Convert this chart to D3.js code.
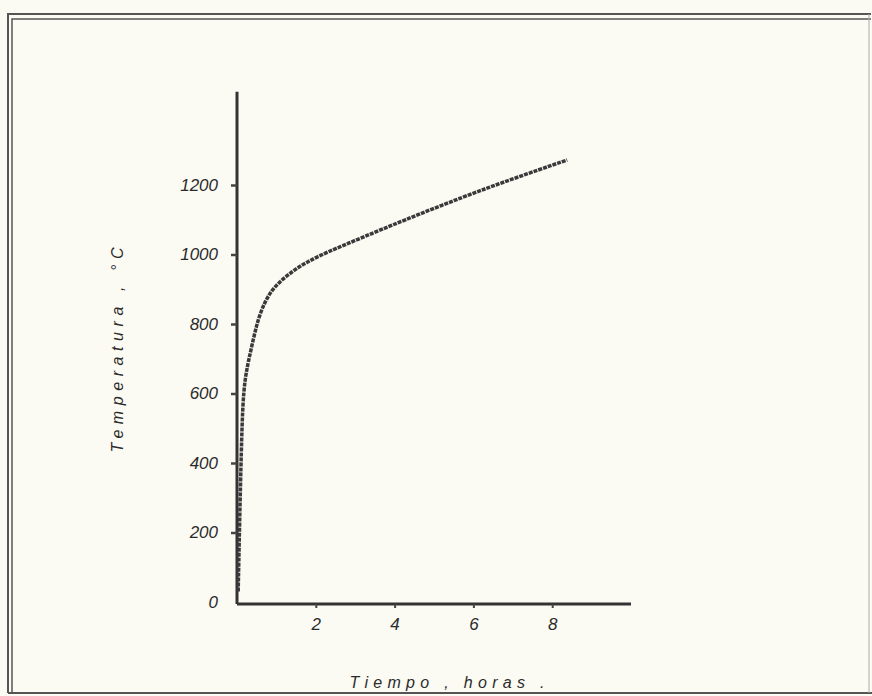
<!DOCTYPE html>
<html>
<head>
<meta charset="utf-8">
<script src="https://cdn.jsdelivr.net/npm/d3@7"></script>
<style>
  body { margin: 0; background: #fbfbf4; }
  text { font-family: "Liberation Sans", Arial, sans-serif; font-style: italic; fill: #2b2b2b; }
</style>
</head>
<body>
<div id="chart"></div>
<script>
/*
 * data
 */
const hours = [0.03, 0.08, 0.12, 0.15, 0.2, 0.28, 0.41, 0.53, 0.71, 0.96, 1.4, 1.8, 2.23, 3.2, 4.2, 5.74, 7.0, 8.38]
const temps = [30, 300, 480, 573, 639, 688, 754, 812, 866, 910, 952, 980, 1004, 1050, 1097, 1166, 1218, 1272]
const xTicks = [2, 4, 6, 8]
const yTicks = [0, 200, 400, 600, 800, 1000, 1200]
const xTitle = 'Tiempo , horas .'
const yTitle = 'Temperatura , °C'

/*
 * svg + frame
 */
const w = 872
const h = 696
const svg = d3.select('#chart')
  .append('svg')
  .attr('width', w)
  .attr('height', h)

svg.append('rect')
  .attr('width', w).attr('height', h)
  .style('fill', '#fbfbf4')

// double border like the scanned page
const frame = svg.append('g').style('fill', 'none').style('stroke', '#555')
frame.append('path')
  .attr('d', 'M8,693 V14 H871')
  .style('stroke-width', 2)
frame.append('path')
  .attr('d', 'M12,693 V19 H871')
  .style('stroke-width', 1.5)
frame.append('line')
  .attr('x1', 8).attr('x2', 872).attr('y1', 693).attr('y2', 693)
  .style('stroke-width', 2)
frame.append('line')
  .attr('x1', 869).attr('x2', 869).attr('y1', 14).attr('y2', 693)
  .style('stroke-width', 1).style('stroke', '#aaa')

/*
 * scales
 */
const x = d3.scaleLinear().domain([0, 10]).range([237, 631])
const y = d3.scaleLinear().domain([0, 1200]).range([602, 185])
const yTop = 1468

const data = hours.map((d, i) => ({ t: d, v: temps[i] }))

/*
 * axes
 */
const xAxis = svg.append('g')
  .attr('transform', `translate(0,${y(0) + 2})`)
  .call(d3.axisBottom(x).tickValues(xTicks).tickSize(4).tickPadding(10).tickFormat(d3.format('d')))
xAxis.select('.domain').attr('d', `M${x(0)},0H${x(10)}`)

const yAxis = svg.append('g')
  .attr('transform', `translate(${x(0)},0)`)
  .call(d3.axisLeft(y).tickValues(yTicks).tickSize(6).tickPadding(13).tickFormat(d3.format('d')))
yAxis.select('.domain').attr('d', `M0,${y(0) + 2}V${y(yTop)}`)

svg.selectAll('.domain')
  .style('stroke', '#333')
  .style('stroke-width', 3)
svg.selectAll('.tick line')
  .style('stroke', '#444')
  .style('stroke-width', 2.5)
xAxis.selectAll('.tick line').style('stroke-width', 2)
svg.selectAll('.tick text')
  .style('font-size', '17px')
  .style('fill', '#2b2b2b')
yAxis.selectAll('.tick').filter(d => d === 0).select('line').remove()

/*
 * axis titles
 */
svg.append('text')
  .attr('x', 447).attr('y', 688)
  .attr('text-anchor', 'middle')
  .attr('textLength', 195)
  .style('font-size', '16px')
  .text(xTitle)

svg.append('text')
  .attr('transform', 'translate(123,350) rotate(-90)')
  .attr('text-anchor', 'middle')
  .attr('textLength', 205)
  .style('font-size', '16px')
  .text(yTitle)

/*
 * the curve
 */
const line = d3.line()
  .x(d => x(d.t))
  .y(d => y(d.v))
  .curve(d3.curveBasis)

svg.append('path')
  .datum(data)
  .attr('d', line)
  .style('fill', 'none')
  .style('stroke', '#3a3a3a')
  .style('stroke-width', 3.5)
  .style('stroke-dasharray', '4,1')
</script>
</body>
</html>
